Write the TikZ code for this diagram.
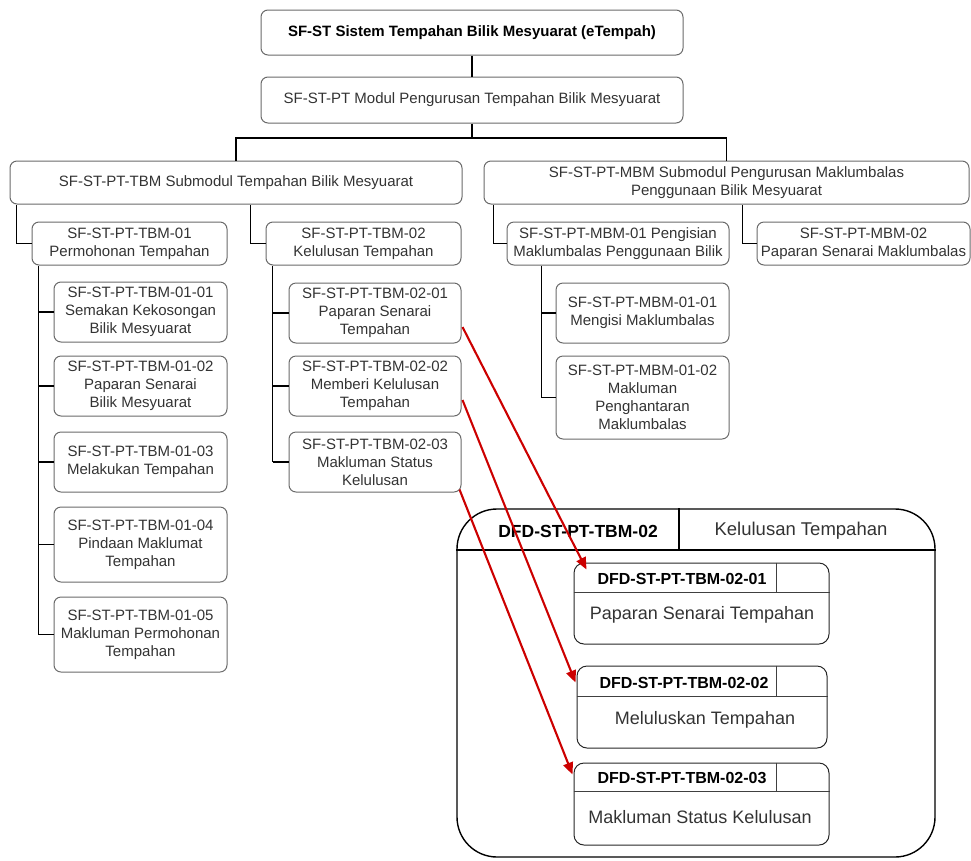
\documentclass[tikz,border=0pt]{standalone}
\usepackage{fontspec}
\setmainfont{Liberation Sans}
\usetikzlibrary{arrows.meta,calc}
\definecolor{txt}{HTML}{333333}
\definecolor{bord}{HTML}{6A6A6A}
\definecolor{arrowred}{HTML}{CC0000}
\begin{document}
\begin{tikzpicture}[x=1pt,y=-1pt,
  box/.style={draw=bord, line width=1, rounded corners=7, inner sep=0, align=center, text=txt, font=\fontsize{15}{18}\selectfont},
  conn/.style={draw=black, line width=1.5},
  redarrow/.style={draw=arrowred, line width=2.1, -{Triangle[length=12,width=10]}},
  dfdbox/.style={draw=black!85, line width=1, rounded corners=10, inner sep=0},
  divline/.style={draw=black!75, line width=0.9},
  dfdtitle/.style={font=\bfseries\fontsize{16}{19}\selectfont, text=black, inner sep=0},
  dfdbody/.style={font=\fontsize{18}{21}\selectfont, text=txt, inner sep=0},
]
\useasboundingbox (0,0) rectangle (971,860);

% top levels
\node[box, font=\bfseries\fontsize{15}{18}\selectfont, text=black, minimum width=422, minimum height=45] (top) at (472,32.5) {SF-ST Sistem Tempahan Bilik Mesyuarat (eTempah)};
\node[box, minimum width=422, minimum height=46] (mod) at (472,100) {SF-ST-PT Modul Pengurusan Tempahan Bilik Mesyuarat};
\node[box, minimum width=452, minimum height=43] (lsub) at (236,182.5) {SF-ST-PT-TBM Submodul Tempahan Bilik Mesyuarat};
\node[box, minimum width=485, minimum height=43] (rsub) at (726.5,182.5) {SF-ST-PT-MBM Submodul Pengurusan Maklumbalas\\Penggunaan Bilik Mesyuarat};

% second level
\node[box, minimum width=195, minimum height=43] (tbma) at (129.5,243.5) {SF-ST-PT-TBM-01\\Permohonan Tempahan};
\node[box, minimum width=195, minimum height=43] (tbmb) at (363.5,243.5) {SF-ST-PT-TBM-02\\Kelulusan Tempahan};
\node[box, minimum width=222, minimum height=43] (mbma) at (618,243.5) {SF-ST-PT-MBM-01 Pengisian\\Maklumbalas Penggunaan Bilik};
\node[box, minimum width=213, minimum height=43] (mbmb) at (863.5,243.5) {SF-ST-PT-MBM-02\\Paparan Senarai Maklumbalas};

% TBM-01 children
\node[box, minimum width=173, minimum height=60] (aa) at (140.5,312) {SF-ST-PT-TBM-01-01\\Semakan Kekosongan\\Bilik Mesyuarat};
\node[box, minimum width=173, minimum height=60] (ab) at (140.5,386) {SF-ST-PT-TBM-01-02\\Paparan Senarai\\Bilik Mesyuarat};
\node[box, minimum width=173, minimum height=60] (ac) at (140.5,462) {SF-ST-PT-TBM-01-03\\Melakukan Tempahan};
\node[box, minimum width=173, minimum height=75] (ad) at (140.5,544.5) {SF-ST-PT-TBM-01-04\\Pindaan Maklumat\\Tempahan};
\node[box, minimum width=173, minimum height=75] (ae) at (140.5,634.5) {SF-ST-PT-TBM-01-05\\Makluman Permohonan\\Tempahan};

% TBM-02 children
\node[box, minimum width=172, minimum height=60] (ba) at (375,313) {SF-ST-PT-TBM-02-01\\Paparan Senarai\\Tempahan};
\node[box, minimum width=172, minimum height=60] (bb) at (375,386) {SF-ST-PT-TBM-02-02\\Memberi Kelulusan\\Tempahan};
\node[box, minimum width=172, minimum height=60] (bc) at (375,462) {SF-ST-PT-TBM-02-03\\Makluman Status\\Kelulusan};

% MBM-01 children
\node[box, minimum width=173, minimum height=60] (ma) at (642.5,313) {SF-ST-PT-MBM-01-01\\Mengisi Maklumbalas};
\node[box, minimum width=173, minimum height=83] (mb) at (642.5,397.5) {SF-ST-PT-MBM-01-02\\Makluman\\Penghantaran\\Maklumbalas};

% connectors
\coordinate (j1) at (472,138);
\draw[conn] (top.south) -- (mod.north);
\draw[conn] (mod.south) -- (j1);
\draw[conn] (lsub.north) |- (j1) -| (rsub.north);

\draw[conn] (tbma.west) -- ++(-15,0) coordinate (ta) -- (ta |- lsub.south);
\draw[conn] (tbmb.west) -- ++(-15,0) coordinate (tb) -- (tb |- lsub.south);
\draw[conn] (mbma.west) -- ++(-13,0) coordinate (tc) -- (tc |- rsub.south);
\draw[conn] (mbmb.west) -- ++(-14,0) coordinate (td) -- (td |- rsub.south);

\coordinate (va) at ($(tbma.south west)+(7,0)$);
\draw[conn] (va) -- (va |- ae.west);
\foreach \n in {aa,ab,ac,ad,ae} \draw[conn] (\n.west) -- (\n.west -| va);
\coordinate (vb) at ($(tbmb.south west)+(7,0)$);
\draw[conn] (vb) -- (vb |- bc.west);
\foreach \n in {ba,bb,bc} \draw[conn] (\n.west) -- (\n.west -| vb);
\coordinate (vm) at ($(mbma.south west)+(35,0)$);
\draw[conn] (vm) -- (vm |- mb.west);
\foreach \n in {ma,mb} \draw[conn] (\n.west) -- (\n.west -| vm);

% DFD container
\node[draw=black, line width=1.4, rounded corners=40, minimum width=478, minimum height=348, inner sep=0] (dfd) at (696,683) {};
\coordinate (hl) at (679,550);
\draw[draw=black, line width=1.2] (dfd.west |- hl) -- (dfd.east |- hl);
\draw[draw=black, line width=1.2] (hl) -- (hl |- dfd.north);
\node[font=\bfseries\fontsize{17.5}{20}\selectfont, text=black, inner sep=0] (hdra) at (578,531) {DFD-ST-PT-TBM-02};
\node[font=\fontsize{18.5}{21}\selectfont, text=txt, inner sep=0] (hdrb) at (801,531) {Kelulusan Tempahan};

% inner boxes
\node[dfdbox, minimum width=255, minimum height=81] (da) at (701.5,603.5) {};
\draw[divline] ($(da.north west)+(0,30)$) -- ($(da.north east)+(0,30)$);
\draw[divline] ($(da.north west)+(203,0)$) -- ($(da.north west)+(203,30)$);
\node[dfdtitle] (dat) at (682,579) {DFD-ST-PT-TBM-02-01};
\node[dfdbody] (dab) at (702,615) {Paparan Senarai Tempahan};

\node[dfdbox, minimum width=250, minimum height=82] (db) at (702,707) {};
\draw[divline] ($(db.north west)+(0,31)$) -- ($(db.north east)+(0,31)$);
\draw[divline] ($(db.north west)+(200,0)$) -- ($(db.north west)+(200,31)$);
\node[dfdtitle] (dbt) at (684,683) {DFD-ST-PT-TBM-02-02};
\node[dfdbody] (dbb) at (705,720) {Meluluskan Tempahan};

\node[dfdbox, minimum width=255, minimum height=82] (dc) at (701.5,804) {};
\draw[divline] ($(dc.north west)+(0,29)$) -- ($(dc.north east)+(0,29)$);
\draw[divline] ($(dc.north west)+(203,0)$) -- ($(dc.north west)+(203,29)$);
\node[dfdtitle] (dct) at (682,778) {DFD-ST-PT-TBM-02-03};
\node[dfdbody] (dcb) at (700,817) {Makluman Status Kelulusan};

% red arrows
\draw[redarrow] ($(ba.east)+(1,14)$) -- ($(da.north west)+(13,7)$);
\draw[redarrow] ($(bb.east)+(1,14)$) -- ($(db.north west)+(-1,17)$);
\draw[redarrow] ($(bc.south east)+(-2,-3)$) -- ($(dc.north west)+(-1,12)$);
\end{tikzpicture}
\end{document}
